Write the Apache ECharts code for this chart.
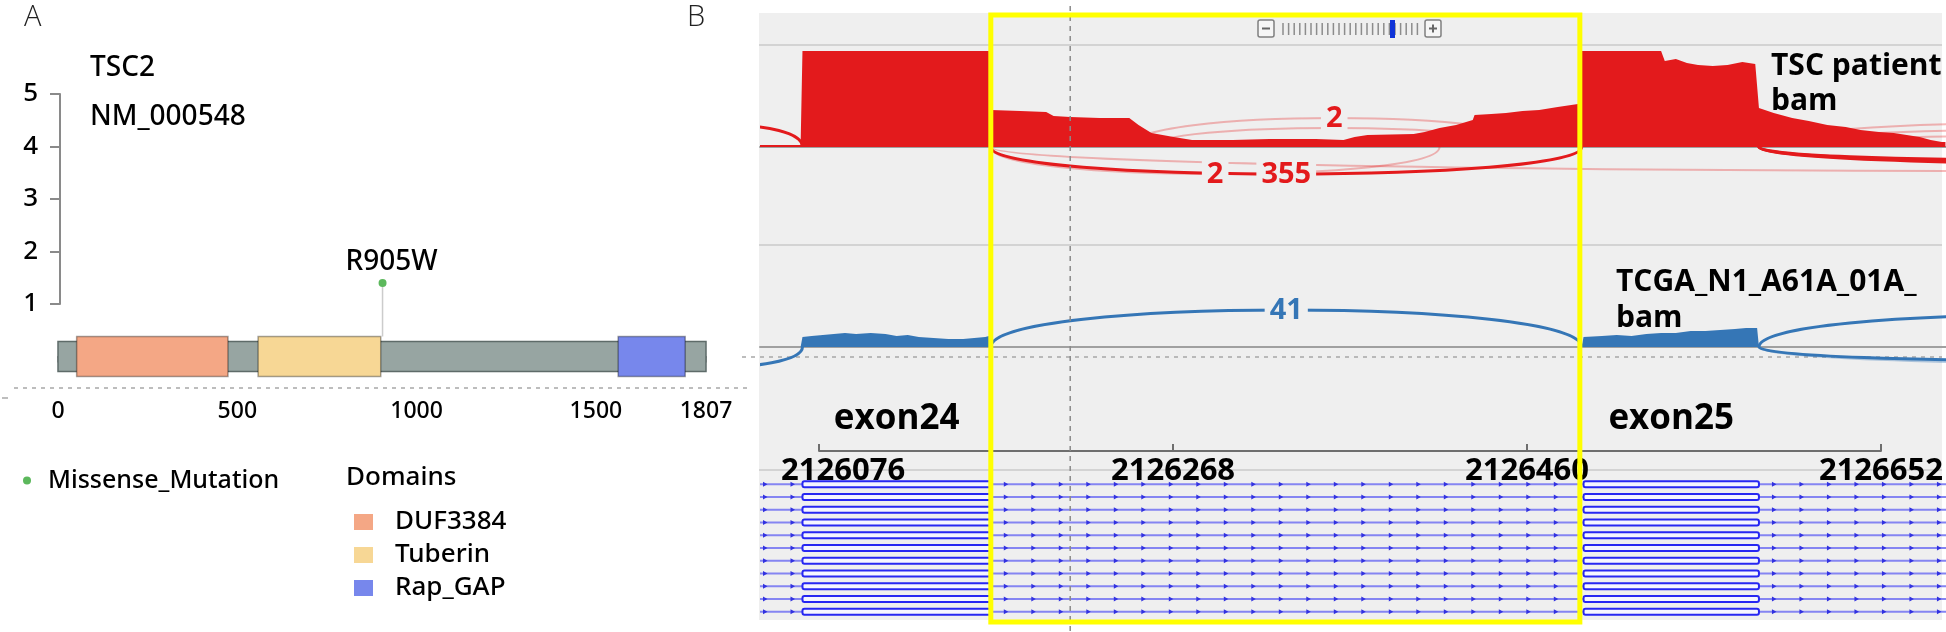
<!DOCTYPE html>
<html>
<head>
<meta charset="utf-8">
<title>TSC2 R905W</title>
<script src="https://cdn.jsdelivr.net/npm/echarts@6.0.0/dist/echarts.min.js"></script>
<style>
  html, body { margin: 0; padding: 0; background: #fff; }
  #main { width: 1946px; height: 632px; }
</style>
</head>
<body>
<div id="main"></div>
<script>
// ---- panel A : TSC2 protein (NM_000548)
var proteinLength = 1807;
var domainNames = ['DUF3384', 'Tuberin', 'Rap_GAP'];
var domainStart = [52, 558, 1562];
var domainEnd = [474, 900, 1749];
var domainColors = ['#f4a785', '#f7d795', '#7787ec'];
var mutationNames = ['R905W'];
var mutationPos = [905];
var mutationHeight = [1.4];

// ---- panel B : sashimi plot, chr16
var rulerTicks = [2126076, 2126268, 2126460, 2126652];
var exonNames = ['exon24', 'exon25'];
var exonStart = [2126067, 2126490];
var exonEnd = [2126169, 2126585];
// [position, depth]
var patientCoverage = [
  [2126044, 2], [2126066, 2], [2126067, 96], [2126168, 96], [2126169, 37], [2126185, 36],
  [2126199, 35], [2126203, 31], [2126212, 30], [2126228, 29], [2126244, 29], [2126249, 22],
  [2126256, 14], [2126268, 10], [2126278, 7], [2126300, 7], [2126320, 8], [2126345, 8],
  [2126360, 7], [2126366, 10], [2126373, 12], [2126398, 13], [2126404, 15], [2126412, 19],
  [2126421, 22], [2126430, 27], [2126431, 32], [2126440, 33], [2126448, 34], [2126457, 36],
  [2126466, 37], [2126476, 40], [2126487, 43], [2126489, 96], [2126532, 96], [2126534, 86],
  [2126540, 88], [2126546, 84], [2126552, 82], [2126560, 81], [2126568, 82], [2126576, 85],
  [2126583, 83], [2126585, 39], [2126593, 34], [2126603, 29], [2126612, 26], [2126622, 22],
  [2126632, 20], [2126640, 17], [2126650, 15], [2126658, 14], [2126665, 12], [2126672, 10],
  [2126678, 7], [2126684, 5], [2126686, 5]
];
var tcgaCoverage = [
  [2126066, 0], [2126067, 10], [2126072, 11], [2126078, 12], [2126084, 13], [2126090, 14],
  [2126096, 13], [2126104, 14], [2126112, 13], [2126118, 11], [2126124, 12], [2126130, 10],
  [2126138, 9], [2126146, 8], [2126154, 8], [2126160, 9], [2126166, 10], [2126168, 11],
  [2126169, 0], [2126489, 0], [2126490, 10], [2126500, 11], [2126508, 12], [2126516, 11],
  [2126524, 13], [2126532, 14], [2126540, 14], [2126548, 16], [2126556, 16], [2126564, 17],
  [2126572, 18], [2126578, 19], [2126584, 19], [2126585, 0]
];
// [start, end, arc height (+ above / - below), reads (null = label out of view)]
var patientJunctions = [
  [2125985, 2126067, 22, null], [2126169, 2126489, -27, 355],
  [2126585, 2126900, -13, null], [2126585, 2126950, -15, null], [2126585, 2127000, -17, null]
];
var patientFaintJunctions = [
  [2126244, 2126466, 29, 2], [2126256, 2126452, 19, null], [2126169, 2126412, -27, 2],
  [2126169, 2127300, -24, null], [2126585, 2126900, 24, null], [2126585, 2126950, 18, null],
  [2126585, 2127000, 12, null]
];
var tcgaJunctions = [
  [2126169, 2126489, 37, 41], [2125960, 2126067, -21, null],
  [2126585, 2126900, 32, null], [2126585, 2126950, -14, null]
];
var tcgaFaintJunctions = [
  [2126585, 2127000, -17, null]
];
var transcriptRows = [1, 2, 3, 4, 5, 6, 7, 8, 9, 10, 11];
var boxedRange = [2126169, 2126488];
var cursorPos = 2126212;

var viewStart = 2126044, viewEnd = 2126686.3;
var FONT = '"Open Sans", "Noto Sans", sans-serif';
var FONT_A = '"Noto Sans", "Open Sans", sans-serif';
var RED = '#e31a1c', RED_FAINT = 'rgba(227,26,28,0.3)';
var BLUE = '#3576b6', BLUE_FAINT = 'rgba(53,118,182,0.35)';

var chart = echarts.init(document.getElementById('main'));

var scale = 1186 / (viewEnd - viewStart);
var rulerLeft = 760 + (rulerTicks[0] - viewStart) * scale;
var rulerWidth = (rulerTicks[rulerTicks.length - 1] - rulerTicks[0]) * scale;

function domainItem(params, api) {
  var a = api.coord([api.value(0), 0.381]);
  var b = api.coord([api.value(1), -0.381]);
  return {
    type: 'rect',
    shape: { x: a[0], y: a[1], width: b[0] - a[0], height: b[1] - a[1] },
    style: { fill: api.visual('color'), stroke: 'rgba(0,0,0,0.35)', lineWidth: 1.5 }
  };
}

function arcRenderer(list, color, width, labelColor) {
  return function (params, api) {
    var j = list[params.dataIndex];
    var p1 = api.coord([j[0], 0]), p2 = api.coord([j[1], 0]);
    var pc = api.coord([j[0], j[2] / 0.75]);
    var children = [{
      type: 'bezierCurve',
      shape: { x1: p1[0], y1: p1[1], x2: p2[0], y2: p2[1], cpx1: p1[0], cpy1: pc[1], cpx2: p2[0], cpy2: pc[1] },
      style: { stroke: color, lineWidth: width, fill: null }
    }];
    if (j[3] != null) {
      var apex = api.coord([(j[0] + j[1]) / 2, j[2]]);
      children.push({
        type: 'text', x: apex[0], y: apex[1] + 1, z2: 10,
        style: {
          text: String(j[3]), fill: labelColor, fontSize: 29, fontWeight: 'bold', fontFamily: FONT,
          align: 'center', verticalAlign: 'middle', backgroundColor: '#efefef', padding: [0, 5]
        }
      });
    }
    return { type: 'group', children: children };
  };
}

function arcSeries(list, grid, color, width, labelColor) {
  return {
    type: 'custom', xAxisIndex: grid, yAxisIndex: grid, clip: true, z: 2,
    data: list.map(function (j) { return [j[0], j[1], j[2]]; }),
    renderItem: arcRenderer(list, color, width, labelColor)
  };
}

function transcriptItem(params, api) {
  var cs = params.coordSys;
  var y = api.coord([viewStart, api.value(0)])[1];
  var children = [{
    type: 'line', shape: { x1: cs.x, y1: y, x2: cs.x + cs.width, y2: y },
    style: { stroke: '#8585f2', lineWidth: 2 }
  }];
  var xs = exonStart.map(function (s) { return api.coord([s, 0])[0]; });
  var xe = exonEnd.map(function (e) { return api.coord([e, 0])[0]; });
  var segs = [[cs.x - 10, xs[0]]];
  for (var i = 0; i < xs.length - 1; i++) segs.push([xe[i], xs[i + 1]]);
  segs.push([xe[xe.length - 1], cs.x + cs.width + 10]);
  segs.forEach(function (sg) {
    for (var x = sg[0] + 15; x < sg[1] - 6; x += 27.5) {
      if (x < cs.x || x > cs.x + cs.width) continue;
      children.push({
        type: 'polygon',
        shape: { points: [[x - 2, y - 2.5], [x + 2.5, y], [x - 2, y + 2.5]] },
        style: { fill: '#3232e0' }
      });
    }
  });
  for (var k = 0; k < xs.length; k++) {
    children.push({
      type: 'rect',
      shape: { x: xs[k], y: y - 3, width: xe[k] - xs[k], height: 6, r: 2 },
      style: { fill: '#f5f5ff', stroke: '#2727f2', lineWidth: 2 }
    });
  }
  return { type: 'group', children: children };
}

var series = [
  {
    type: 'custom', xAxisIndex: 0, yAxisIndex: 0, z: 2,
    data: [[0, proteinLength]],
    renderItem: function (params, api) {
      var a = api.coord([api.value(0), 0.286]);
      var b = api.coord([api.value(1), -0.286]);
      return {
        type: 'rect',
        shape: { x: a[0], y: a[1], width: b[0] - a[0], height: b[1] - a[1] },
        style: { fill: '#97a5a2', stroke: '#5e6b69', lineWidth: 1.5 }
      };
    }
  }
];
domainNames.forEach(function (name, i) {
  series.push({
    name: name, type: 'custom', xAxisIndex: 0, yAxisIndex: 0, z: 3,
    itemStyle: { color: domainColors[i] },
    data: [[domainStart[i], domainEnd[i]]],
    renderItem: domainItem
  });
});
series.push({
  name: 'Missense_Mutation', type: 'custom', xAxisIndex: 0, yAxisIndex: 0, z: 4,
  itemStyle: { color: '#5cb85c' },
  data: mutationPos.map(function (p, i) { return [p, mutationHeight[i]]; }),
  renderItem: function (params, api) {
    var base = api.coord([api.value(0), 0.381]);
    var top = api.coord([api.value(0), api.value(1)]);
    return {
      type: 'group',
      children: [
        { type: 'line', shape: { x1: base[0], y1: base[1], x2: top[0], y2: top[1] }, style: { stroke: '#cccccc', lineWidth: 1.5 } },
        { type: 'circle', shape: { cx: top[0], cy: top[1], r: 4 }, style: { fill: api.visual('color') } },
        {
          type: 'text', x: top[0] + 9, y: top[1] - 21,
          style: { text: mutationNames[params.dataIndex], fontSize: 28, fontWeight: 500, fontFamily: FONT_A, fill: '#000', align: 'center', verticalAlign: 'middle' }
        }
      ]
    };
  }
});
series.push({
  name: 'TSC patient bam', type: 'line', xAxisIndex: 2, yAxisIndex: 2, z: 3,
  data: patientCoverage, symbol: 'none', lineStyle: { width: 0 },
  areaStyle: { color: RED, opacity: 1 }
});
series.push(arcSeries(patientFaintJunctions, 2, RED_FAINT, 2, RED));
series.push(arcSeries(patientJunctions, 2, RED, 3, RED));
series.push({
  name: 'TCGA_N1_A61A_01A_bam', type: 'line', xAxisIndex: 3, yAxisIndex: 3, z: 3,
  data: tcgaCoverage, symbol: 'none', lineStyle: { width: 0 },
  areaStyle: { color: BLUE, opacity: 1 }
});
series.push(arcSeries(tcgaFaintJunctions, 3, BLUE_FAINT, 2, BLUE));
series.push(arcSeries(tcgaJunctions, 3, BLUE, 3, BLUE));
series.push({
  type: 'custom', xAxisIndex: 5, yAxisIndex: 5, z: 3,
  data: transcriptRows.map(function (r, i) { return [i]; }),
  renderItem: transcriptItem
});

function trackX(idx) {
  return {
    gridIndex: idx, type: 'value', min: viewStart, max: viewEnd,
    axisLine: { show: true, onZero: true, lineStyle: { color: '#a0a0a0', width: 2 } },
    axisTick: { show: false }, axisLabel: { show: false }, splitLine: { show: false }
  };
}
function hiddenY(idx, min, max, inverse) {
  return { gridIndex: idx, type: 'value', min: min, max: max, inverse: !!inverse, show: false, splitLine: { show: false } };
}

var staticGraphics = [
  // panel B background and separators
  { type: 'rect', z: -10, shape: { x: 759, y: 13, width: 1183, height: 607 }, style: { fill: '#efefef' } },
  { type: 'line', shape: { x1: 759, y1: 45, x2: 1942, y2: 45 }, style: { stroke: '#d3d3d3', lineWidth: 2 } },
  { type: 'line', shape: { x1: 759, y1: 245, x2: 1942, y2: 245 }, style: { stroke: '#d3d3d3', lineWidth: 2 } },
  { type: 'line', shape: { x1: 759, y1: 470, x2: 1942, y2: 470 }, style: { stroke: '#d3d3d3', lineWidth: 2 } },
  { type: 'line', shape: { x1: 742, y1: 357, x2: 1942, y2: 357 }, style: { stroke: '#a8a8a8', lineWidth: 1.5, lineDash: [4, 5] } },
  { type: 'line', shape: { x1: 14, y1: 388, x2: 750, y2: 388 }, style: { stroke: '#a8a8a8', lineWidth: 1.5, lineDash: [4, 5] } },
  { type: 'line', shape: { x1: 2, y1: 398, x2: 8, y2: 398 }, style: { stroke: '#a8a8a8', lineWidth: 1.5 } },
  // zoom widget
  { type: 'rect', shape: { x: 1258, y: 20, width: 16, height: 17, r: 2 }, style: { fill: '#f6f6f6', stroke: '#808080', lineWidth: 1.5 } },
  { type: 'line', shape: { x1: 1262, y1: 28.5, x2: 1270, y2: 28.5 }, style: { stroke: '#666', lineWidth: 2 } },
  { type: 'rect', shape: { x: 1425, y: 20, width: 16, height: 17, r: 2 }, style: { fill: '#f6f6f6', stroke: '#808080', lineWidth: 1.5 } },
  { type: 'line', shape: { x1: 1429, y1: 28.5, x2: 1437, y2: 28.5 }, style: { stroke: '#666', lineWidth: 2 } },
  { type: 'line', shape: { x1: 1433, y1: 24.5, x2: 1433, y2: 32.5 }, style: { stroke: '#666', lineWidth: 2 } },
  // panel titles
  { type: 'text', x: 24, y: 18, style: { text: 'A', fontSize: 29, fontWeight: 300, fontFamily: FONT, fill: '#222', verticalAlign: 'middle' } },
  { type: 'text', x: 687, y: 18, style: { text: 'B', fontSize: 29, fontWeight: 300, fontFamily: FONT, fill: '#222', verticalAlign: 'middle' } },
  { type: 'text', x: 90, y: 68, style: { text: 'TSC2', fontSize: 28, fontWeight: 500, fontFamily: FONT_A, fill: '#000', verticalAlign: 'middle' } },
  { type: 'text', x: 90, y: 117, style: { text: 'NM_000548', fontSize: 28, fontWeight: 500, fontFamily: FONT_A, fill: '#000', verticalAlign: 'middle' } },
  { type: 'text', x: 346, y: 478, style: { text: 'Domains', fontSize: 26, fontWeight: 500, fontFamily: FONT_A, fill: '#000', verticalAlign: 'middle' } },
  { type: 'text', x: 1771, y: 66, style: { text: 'TSC patient', fontSize: 30, fontWeight: 'bold', fontFamily: FONT, fill: '#000', verticalAlign: 'middle' } },
  { type: 'text', x: 1771, y: 101, style: { text: 'bam', fontSize: 30, fontWeight: 'bold', fontFamily: FONT, fill: '#000', verticalAlign: 'middle' } },
  { type: 'text', x: 1616, y: 282, style: { text: 'TCGA_N1_A61A_01A_', fontSize: 30, fontWeight: 'bold', fontFamily: FONT, fill: '#000', verticalAlign: 'middle' } },
  { type: 'text', x: 1616, y: 318, style: { text: 'bam', fontSize: 30, fontWeight: 'bold', fontFamily: FONT, fill: '#000', verticalAlign: 'middle' } }
];
for (var t = 0; t < 25; t++) {
  staticGraphics.push({ type: 'line', shape: { x1: 1283 + t * 5.6, y1: 23, x2: 1283 + t * 5.6, y2: 35 }, style: { stroke: '#8c8c8c', lineWidth: 1.5 } });
}
staticGraphics.push({ type: 'rect', shape: { x: 1390, y: 20, width: 5, height: 18 }, style: { fill: '#1034d8' } });

var option = {
  animation: false,
  backgroundColor: '#fff',
  textStyle: { fontFamily: FONT },
  grid: [
    { left: 58, top: 94, width: 648, height: 294 },
    { left: 60, top: 94, width: 648, height: 210 },
    { left: 760, top: 47, width: 1186, height: 150 },
    { left: 760, top: 247, width: 1186, height: 150 },
    { left: rulerLeft, top: 430, width: rulerWidth, height: 21 },
    { left: 760, top: 478, width: 1186, height: 140 }
  ],
  xAxis: [
    {
      gridIndex: 0, type: 'value', min: 0, max: proteinLength, interval: 500,
      axisLine: { lineStyle: { color: '#8a8a8a', width: 2 } },
      axisTick: { length: 6, lineStyle: { color: '#8a8a8a', width: 1.5 } },
      minorTick: { show: true, splitNumber: 25, length: 3, lineStyle: { color: '#aaaaaa' } },
      axisLabel: { fontSize: 23, fontWeight: 500, color: '#000', margin: 12, fontFamily: FONT_A, formatter: function (v) { return String(v); } },
      splitLine: { show: false }
    },
    { gridIndex: 1, type: 'value', min: 0, max: proteinLength, show: false },
    trackX(2),
    trackX(3),
    {
      gridIndex: 4, type: 'value', min: rulerTicks[0], max: rulerTicks[rulerTicks.length - 1], interval: 192,
      axisLine: { lineStyle: { color: '#6e6e6e', width: 2 } },
      axisTick: { inside: true, length: 7, lineStyle: { color: '#6e6e6e', width: 2 } },
      axisLabel: {
        fontSize: 31, fontWeight: 'bold', color: '#000', margin: 5, fontFamily: FONT,
        formatter: function (v) { return v === rulerTicks[0] ? '{first|' + v + '}' : String(v); },
        rich: { first: { fontSize: 31, fontWeight: 'bold', color: '#000', fontFamily: FONT, padding: [0, 0, 0, 48] } }
      },
      splitLine: { show: false }
    },
    { gridIndex: 5, type: 'value', min: viewStart, max: viewEnd, show: false }
  ],
  yAxis: [
    hiddenY(0, -0.6, 5),
    {
      gridIndex: 1, type: 'value', min: 1, max: 5, interval: 1,
      axisLine: { show: true, lineStyle: { color: '#8a8a8a', width: 2 } },
      axisTick: { show: true, length: 10, lineStyle: { color: '#8a8a8a', width: 2 } },
      axisLabel: { fontSize: 26, fontWeight: 500, color: '#000', margin: 22, fontFamily: FONT_A },
      splitLine: { show: false }
    },
    hiddenY(2, -50, 100),
    hiddenY(3, -50, 100),
    hiddenY(4, 0, 1),
    hiddenY(5, -0.5, 10.5, true)
  ],
  legend: [
    {
      data: ['Missense_Mutation'], left: 23, top: 468, padding: 0, icon: 'circle',
      itemWidth: 8, itemHeight: 8, selectedMode: false,
      textStyle: { fontSize: 25, fontWeight: 500, color: '#000', fontFamily: FONT_A, padding: [0, 0, 0, 12] }
    },
    {
      data: domainNames, orient: 'vertical', left: 354, top: 509, padding: 0, icon: 'rect',
      itemWidth: 19, itemHeight: 16, itemGap: 7, selectedMode: false,
      textStyle: { fontSize: 26, fontWeight: 500, lineHeight: 26, color: '#000', fontFamily: FONT_A, padding: [0, 0, 0, 17] }
    }
  ],
  graphic: { elements: staticGraphics },
  series: series
};
chart.setOption(option);

// overlays placed through the track scales
function px(pos) { return chart.convertToPixel({ gridIndex: 2 }, [pos, 0])[0]; }
var overlays = [];
exonNames.forEach(function (name, i) {
  overlays.push({
    type: 'text', x: px((exonStart[i] + exonEnd[i]) / 2), y: 419,
    style: { text: name, fontSize: 35, fontWeight: 'bold', fontFamily: FONT, fill: '#000', align: 'center', verticalAlign: 'middle' }
  });
});
var cx = px(cursorPos);
overlays.push({ type: 'line', z: 50, shape: { x1: cx, y1: 6, x2: cx, y2: 632 }, style: { stroke: '#8a8a8a', lineWidth: 1.5, lineDash: [5, 5] } });
var bx0 = px(boxedRange[0]), bx1 = px(boxedRange[1]);
overlays.push({ type: 'rect', z: 100, shape: { x: bx0, y: 15, width: bx1 - bx0, height: 607 }, style: { fill: null, stroke: '#ffff00', lineWidth: 5 } });
chart.setOption({ graphic: { elements: staticGraphics.concat(overlays) } });
</script>
</body>
</html>
